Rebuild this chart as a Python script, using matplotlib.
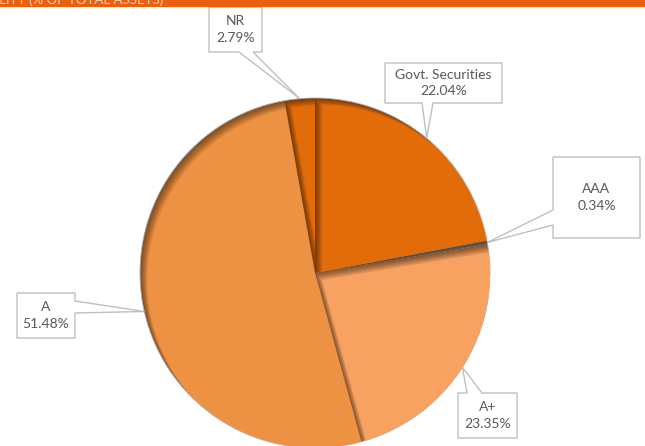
import numpy as np
import matplotlib.pyplot as plt
from matplotlib.path import Path
from matplotlib.patches import PathPatch, Polygon, Rectangle

plt.rcParams['font.family'] = ['Lato', 'DejaVu Sans']

labels = ['Govt. Securities', 'AAA', 'A+', 'A', 'NR']
shares = [22.04, 0.34, 23.35, 51.48, 2.79]
colors = ['#E36C0A', '#8C8C8C', '#F8A262', '#ED9142', '#E36C0A']
title = 'CREDIT QUALITY (% OF TOTAL ASSETS)'

# pie centre and radius in pixels
CX, CY, R = 315, 273, 175
W, H = 645, 446

# callout boxes (left, top, right, bottom) in pixels, pointer side, pointer base span
callouts = {
    'Govt. Securities': ((385, 63, 502, 103), 'bottom', (422, 433)),
    'AAA': ((553, 157, 640, 238), 'left', (210, 225)),
    'A+': ((458, 393, 517, 438), 'top', (467, 482)),
    'A': ((17, 293, 75, 338), 'right', (301, 313)),
    'NR': ((209, 7, 262, 52), 'bottom', (239, 253)),
}


def px(x, y):
    return ((x - CX) / R, (CY - y) / R)


def wedge_poly(t1, t2, dx=0.0, dy=0.0, n=200):
    t = np.radians(np.linspace(t1, t2, n))
    pts = np.column_stack([np.cos(t), np.sin(t)])
    pts = np.vstack([[0, 0], pts, [0, 0]])
    return pts + [dx, dy]


fig = plt.figure(figsize=(W / 100, H / 100), dpi=100)
ax = fig.add_axes([0, 0, 1, 1])

wedges, _ = ax.pie(shares, colors=colors, startangle=90, counterclock=False,
                   radius=1, center=(0, 0),
                   wedgeprops=dict(edgecolor='none', linewidth=0))

# soft inner shadow on the upper-left edges of every slice
x0, y0 = px(0, H)
x1, y1 = px(W, 0)
for w in wedges:
    for k in range(1, 9):
        s = k * 0.9 / R
        hole = wedge_poly(w.theta1, w.theta2, s, -s)[::-1]
        rect = np.array([[x0 - 1, y0 - 1], [x1 + 1, y0 - 1], [x1 + 1, y1 + 1],
                         [x0 - 1, y1 + 1], [x0 - 1, y0 - 1]])
        verts = np.vstack([rect, hole])
        codes = ([Path.MOVETO] + [Path.LINETO] * 3 + [Path.CLOSEPOLY]
                 + [Path.MOVETO] + [Path.LINETO] * (len(hole) - 2) + [Path.CLOSEPOLY])
        sh = PathPatch(Path(verts, codes), facecolor='#2b1300', edgecolor='none',
                       alpha=0.085, zorder=2)
        ax.add_patch(sh)
        sh.set_clip_path(w)

# faint rim round the pie
rim = wedge_poly(0, 360)[1:-1]
ax.plot(rim[:, 0], rim[:, 1], color='#B0B0B0', lw=0.6, zorder=3)

# callout boxes with pointers to each slice
for w, lab, val in zip(wedges, labels, shares):
    (l, t, r, b), side, (a1, a2) = callouts[lab]
    mid = np.radians((w.theta1 + w.theta2) / 2)
    tip = (np.cos(mid), np.sin(mid))
    TL, TR, BR, BL = px(l, t), px(r, t), px(r, b), px(l, b)
    if side == 'top':
        pts = [TL, px(a1, t), tip, px(a2, t), TR, BR, BL]
    elif side == 'right':
        pts = [TL, TR, px(r, a1), tip, px(r, a2), BR, BL]
    elif side == 'bottom':
        pts = [TL, TR, BR, px(a2, b), tip, px(a1, b), BL]
    else:
        pts = [TL, TR, BR, BL, px(l, a2), tip, px(l, a1)]
    ax.add_patch(Polygon(pts, closed=True, facecolor='white', edgecolor='#BFBFBF',
                         lw=1.0, zorder=5))
    tx, ty = px((l + r) / 2, (t + b) / 2)
    ax.text(tx, ty, f'{lab}\n{val:.2f}%', ha='center', va='center', fontsize=10,
            color='#595959', linespacing=1.45, zorder=6)

ax.set_xlim(x0, x1)
ax.set_ylim(y0, y1)
ax.set_aspect('auto')
ax.axis('off')

# orange header strip with the chart title running off the top edge
fig.add_artist(Rectangle((0, 1 - 7 / H), 1, 7 / H, transform=fig.transFigure,
                         facecolor='#EB6010', edgecolor='none'))
fig.text(163 / W, 1 - 3.5 / H, title, ha='right', va='baseline', fontsize=9.5,
         color='#F7CDB0')

fig.savefig('out.png', dpi=100)
